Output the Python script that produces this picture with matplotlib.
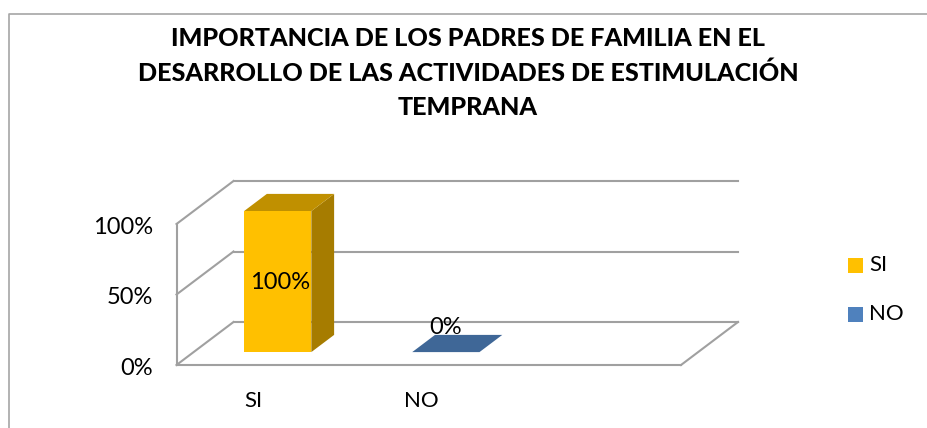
import matplotlib
matplotlib.use('Agg')
import matplotlib.pyplot as plt
from matplotlib.patches import Polygon, Rectangle
from matplotlib.lines import Line2D
from matplotlib.transforms import Affine2D

plt.rcParams['font.family'] = ['Lato', 'DejaVu Sans']

title = 'IMPORTANCIA DE LOS PADRES DE FAMILIA EN EL\nDESARROLLO DE LAS ACTIVIDADES DE ESTIMULACIÓN\nTEMPRANA'
categories = ['SI', 'NO']
values = [100, 0]
value_labels = ['100%', '0%']
colors = ['#FFC000', '#3F6797']
top_colors = ['#C09000', '#3F6797']
side_colors = ['#A67C00', '#2F4F75']
legend_colors = ['#FFC000', '#4F81BD']
y_ticks = [0, 50, 100]
y_labels = ['0%', '50%', '100%']

W, H = 928, 428
GRID = '#A0A0A0'
DX, DY = 57, 43      # depth of the 3d box in pixels

fig = plt.figure(figsize=(W / 100, H / 100), dpi=100, facecolor='white')

# full figure axes, pixel coordinates, for frame and legend
bg = fig.add_axes([0, 0, 1, 1])
bg.set_xlim(0, W)
bg.set_ylim(H, 0)
bg.axis('off')
bg.plot([9.5, 9.5, W], [H, 14, 14], color='#A6A6A6', lw=1.2, solid_capstyle='butt')

# front plane of the box
ax = fig.add_axes([176.5 / W, 1 - 365 / H, 504.5 / W, 141 / H])
ax.set_xlim(-0.5, 2.5)
ax.set_ylim(0, 100)
ax.patch.set_visible(False)
for s in ax.spines.values():
    s.set_visible(False)


def sheared(depth):
    """transform that pushes a point of the front plane back by depth (0-1)"""
    return ax.transData + Affine2D().translate(DX * depth, DY * depth)


back = sheared(1)
for v in y_ticks:
    ax.plot([-0.5, 2.5], [v, v], color=GRID, lw=1.5, transform=back, clip_on=False)

# walls and floor edges
for v in y_ticks:
    a = ax.transData.transform((-0.5, v))
    ax.add_line(Line2D([a[0], a[0] + DX], [a[1], a[1] + DY], color=GRID, lw=1.5,
                       transform=None, clip_on=False))
a = ax.transData.transform((2.5, 0))
ax.add_line(Line2D([a[0], a[0] + DX], [a[1], a[1] + DY], color=GRID, lw=1.5,
                   transform=None, clip_on=False))
ax.plot([-0.5, 2.5], [0, 0], color=GRID, lw=1.5, clip_on=False)
ax.plot([-0.5, -0.5], [0, 100], color=GRID, lw=1.5, clip_on=False)

# bars
bar_w = 0.4
d0, d1 = 0.3, 0.7
for i, v in enumerate(values):
    l, r = i - bar_w / 2, i + bar_w / 2
    t0, t1 = sheared(d0), sheared(d1)
    faces = [
        ([t0.transform((r, 0)), t1.transform((r, 0)), t1.transform((r, v)), t0.transform((r, v))], side_colors[i]),
        ([t0.transform((l, v)), t0.transform((r, v)), t1.transform((r, v)), t1.transform((l, v))], top_colors[i]),
        ([t0.transform((l, 0)), t0.transform((r, 0)), t0.transform((r, v)), t0.transform((l, v))], colors[i]),
    ]
    for verts, c in faces:
        ax.add_patch(Polygon(verts, closed=True, fc=c, ec='none', transform=None,
                             zorder=3, clip_on=False))

# value labels
ax.text(0, 50, value_labels[0], transform=sheared(d0) + Affine2D().translate(2, -1),
        ha='center', va='center', fontsize=17, color='black', zorder=5)
ax.text(1, 0, value_labels[1], transform=sheared(0.5) + Affine2D().translate(-12, 5),
        ha='center', va='bottom', fontsize=17, color='black', zorder=5)

# axis labels
ax.set_xticks(range(len(categories)))
ax.set_xticklabels([])
ax.set_yticks(y_ticks)
ax.set_yticklabels(y_labels, fontsize=17)
ax.tick_params(axis='y', length=0, pad=17)
ax.tick_params(axis='x', length=0)
for lab in ax.get_yticklabels():
    lab.set_transform(lab.get_transform() + Affine2D().translate(0, -1.5))
for i, c in enumerate(categories):
    ax.text(i, 0, c, transform=ax.transData + Affine2D().translate(-7, -36),
            ha='center', va='center', fontsize=16)

fig.text(468 / W, 1 - 73 / H, title, ha='center', va='center', fontsize=18.1,
         fontweight=900, linespacing=1.57)

# legend
for c, name, y in zip(legend_colors, categories, [265, 314]):
    bg.add_patch(Rectangle((848, y - 7.5), 15, 15, fc=c, ec='none'))
    bg.text(869, y, name, ha='left', va='center', fontsize=16)

fig.savefig('out.png', dpi=100)
